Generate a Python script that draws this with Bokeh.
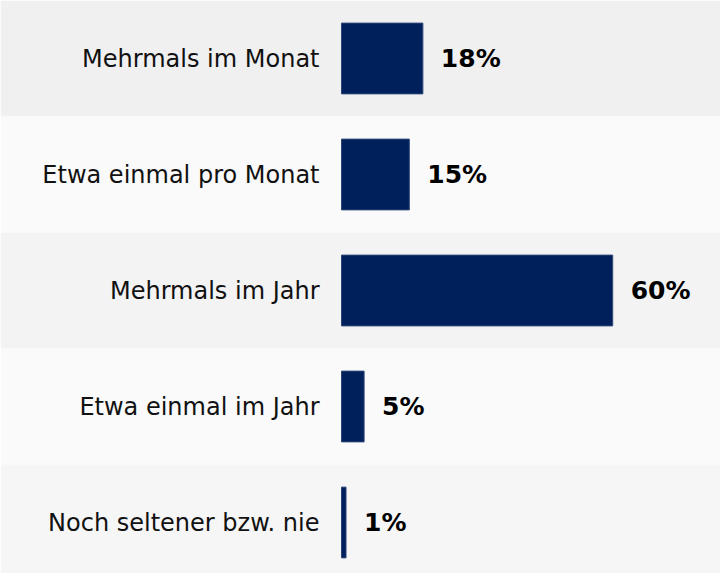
from bokeh.plotting import figure
from bokeh.models import ColumnDataSource, Range1d
from bokeh.core.properties import value
from bokeh.embed import file_html
from bokeh.resources import INLINE

categories = ["Mehrmals im Monat", "Etwa einmal pro Monat", "Mehrmals im Jahr",
              "Etwa einmal im Jahr", "Noch seltener bzw. nie"]
values = [18, 15, 60, 5, 1]
value_labels = ["18%", "15%", "60%", "5%", "1%"]
band_colors = ["#f0f0f0", "#fafafa", "#f3f3f3", "#fafafa", "#f6f6f6"]

pos = list(range(len(categories)))

W, H = 720, 573
row_px = 116
px_per_unit = 4.52
bar_start_px = 341

src = ColumnDataSource(dict(y=pos, cat=categories, val=values, lab=value_labels, band=band_colors))

p = figure(width=W, height=H, output_backend="svg", toolbar_location=None,
           x_range=Range1d(-bar_start_px / px_per_unit, (W - bar_start_px) / px_per_unit),
           y_range=Range1d(-0.5 + H / row_px, -0.5),
           min_border=0, outline_line_color=None, background_fill_color="white",
           border_fill_color="white")
p.axis.visible = False
p.grid.visible = False

p.hbar(y="y", left=-200, right=200, height=1.0, color="band", line_color=None, source=src)
p.hbar(y="y", left=0, right="val", height=0.61, fill_color="#00205b",
       line_color="#2c4577", line_width=1, source=src)

p.text(x=0, y="y", text="cat", x_offset=-22, text_align="right", text_baseline="middle",
       text_font=value("DejaVu Sans"), text_font_size="24px", text_color="#111111", source=src)
p.text(x="val", y="y", text="lab", x_offset=18, text_align="left", text_baseline="middle",
       text_font=value("DejaVu Sans"), text_font_style="bold", text_font_size="25px",
       text_color="#000000", source=src)

open("out.html", "w").write(file_html(p, INLINE))
